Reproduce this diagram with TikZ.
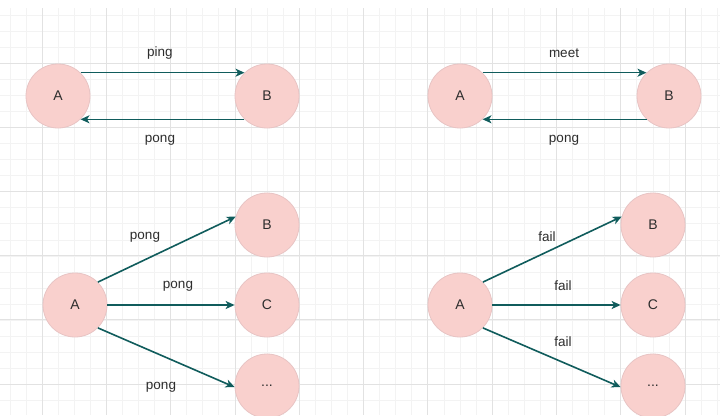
\documentclass[tikz,border=0pt]{standalone}
\usepackage{fontspec}
\setmainfont{Liberation Sans}
\usetikzlibrary{arrows.meta}
\definecolor{cfill}{RGB}{249,208,205}
\definecolor{cedge}{RGB}{232,196,196}
\definecolor{arr}{RGB}{16,92,92}
\definecolor{txt}{RGB}{45,45,45}
\definecolor{gminor}{RGB}{243,243,243}
\definecolor{gmajor}{RGB}{226,226,226}
\tikzset{
  peer/.style={circle,minimum size=64pt,inner sep=0pt,fill=cfill,draw=cedge,line width=0.8pt,text=txt,font=\fontsize{14}{16}\selectfont},
  msg/.style={-{Stealth[length=9pt,width=8pt,inset=2.5pt]},draw=arr,line width=1.6pt},
  lbl/.style={text=txt,font=\fontsize{13.5}{16}\selectfont,inner sep=0pt}
}
\begin{document}
\begin{tikzpicture}[x=1pt,y=-1pt]
\useasboundingbox (0,0) rectangle (720,415);
\fill[white] (0,0) rectangle (720,415);
% grid
\foreach \i in {0,...,45} {
  \pgfmathsetmacro\gx{9.8+16.075*\i}
  \draw[gminor,line width=0.6pt] (\gx,8) -- (\gx,415);
}
\foreach \i in {0,...,25} {
  \pgfmathsetmacro\gy{14.8+16.075*\i}
  \draw[gminor,line width=0.6pt] (0,\gy) -- (720,\gy);
}
\foreach \i in {0,...,10} {
  \pgfmathsetmacro\gx{42+64.3*\i}
  \draw[gmajor,line width=0.8pt] (\gx,8) -- (\gx,415);
}
\foreach \i in {0,...,5} {
  \pgfmathsetmacro\gy{63+64.2*\i}
  \draw[gmajor,line width=0.8pt] (0,\gy) -- (720,\gy);
}
% top left
\node[peer] (a1) at (58,96) {A};
\node[peer] (b1) at (267,96) {B};
\draw[msg] (a1.46) -- (b1.134);
\draw[msg] (b1.-134) -- (a1.-46);
\node[lbl] (l1) at (160,53) {ping};
\node[lbl] (l2) at (160,140) {pong};
% top right
\node[peer] (a2) at (460,96) {A};
\node[peer] (b2) at (669,96) {B};
\draw[msg] (a2.46) -- (b2.134);
\draw[msg] (b2.-134) -- (a2.-46);
\node[lbl] (l3) at (564,53) {meet};
\node[lbl] (l4) at (564,140) {pong};
% bottom left
\node[peer] (a3) at (75,305) {A};
\node[peer] (b3) at (267,225) {B};
\node[peer] (c3) at (267,305) {C};
\node[peer] (d3) at (267,386) {...};
\draw[msg] (a3.45) -- (b3.165);
\draw[msg] (a3.east) -- (c3.west);
\draw[msg] (a3.-45) -- (d3.182);
\node[lbl] (l5) at (145,237) {pong};
\node[lbl] (l6) at (178,286) {pong};
\node[lbl] (l7) at (161,387) {pong};
% bottom right
\node[peer] (a4) at (460,305) {A};
\node[peer] (b4) at (653,225) {B};
\node[peer] (c4) at (653,305) {C};
\node[peer] (d4) at (653,386) {...};
\draw[msg] (a4.45) -- (b4.165);
\draw[msg] (a4.east) -- (c4.west);
\draw[msg] (a4.-45) -- (d4.182);
\node[lbl] (l8) at (547,237) {fail};
\node[lbl] (l9) at (563,286) {fail};
\node[lbl] (l10) at (563,342) {fail};
\end{tikzpicture}
\end{document}
